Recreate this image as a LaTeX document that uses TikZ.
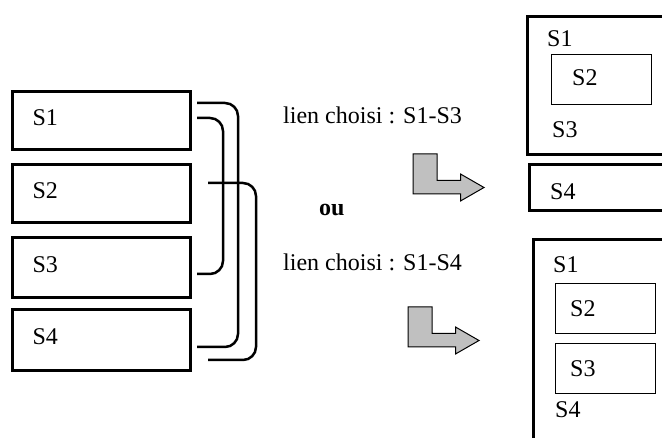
\documentclass[tikz,border=0pt]{standalone}
\usepackage{fontspec}
\setmainfont{Liberation Serif}
\usetikzlibrary{calc}
\definecolor{gris}{RGB}{192,192,192}

\begin{document}
\begin{tikzpicture}[x=1pt,y=-1pt,font=\fontsize{24}{28}\selectfont]

\tikzset{sbox/.style = {draw,line width=3pt,text width=138pt,inner xsep=20pt,align=left,
  text height=15pt,text depth=5pt,minimum height=58pt}}
\tikzset{gbox/.style = {draw,line width=3pt,anchor=north west,minimum width=200pt}}
\tikzset{ibox/.style = {draw,line width=1pt,anchor=north west,minimum width=100pt,minimum height=50pt}}
\tikzset{txt/.style = {anchor=base west,inner sep=0pt}}
\tikzset{bracket/.style = {line width=2.5pt,rounded corners=13pt}}
\tikzset{coude/.pic = {\draw[line width=1pt,fill=gris] (0,0) -- (24,0) -- (24,26.5) -- (47.5,26.5)
  -- (47.5,20) -- (71,33.5) -- (47.5,47) -- (47.5,40) -- (0,40) -- cycle;}}

\clip (0,0) rectangle (662,438);

% sous-ensembles
\node[sbox] (s1) at (101.5,120.5) {S1};
\node[sbox] (s2) at (101.5,193.5) {S2};
\node[sbox,minimum height=60pt] (s3) at (101.5,267.5) {S3};
\node[sbox,minimum height=61pt] (s4) at (101.5,340) {S4};
%liens
\draw[bracket] ($(s1.east)+(5,-2.5)$) -- ++(26,0) |- ($(s3.east)+(5,6.5)$);
\draw[bracket] ($(s1.east)+(5,-17.5)$) -- ++(41,0) |- ($(s4.east)+(5,7)$);
\draw[bracket] ($(s2.east)+(16,-10.5)$) -- ++(48,0) |- ($(s4.east)+(16,20)$);

\node[txt] (lien1) at (283,124) {lien choisi : S1-S3};
\node[txt,font=\fontsize{24}{28}\selectfont\bfseries] (ou) at (319,216) {ou};
\node[txt] (lien2) at (283,271) {lien choisi : S1-S4};

\pic at (413,154) {coude};
\pic at (408,307) {coude};

% resultat S1-S3
\node[gbox,minimum height=138pt] (g13) at (526,15) {};
\node[ibox] (g13s2) at (551,54) {};
\node[gbox,minimum height=46pt] (g4) at (528,163) {};
\node[txt] (t1) at (547,47) {S1};
\node[txt] (t2) at (572,86) {S2};
\node[txt] (t3) at (552,138) {S3};
\node[txt] (t4) at (550,200) {S4};

% resultat S1-S4
\node[gbox,minimum height=250pt] (g14) at (532,238) {};
\node[ibox] (g14s2) at (555,283) {};
\node[ibox] (g14s3) at (555,343) {};
\node[txt] (u1) at (553,273) {S1};
\node[txt] (u2) at (570,317) {S2};
\node[txt] (u3) at (570,377) {S3};
\node[txt] (u4) at (555,418) {S4};

\end{tikzpicture}
\end{document}
